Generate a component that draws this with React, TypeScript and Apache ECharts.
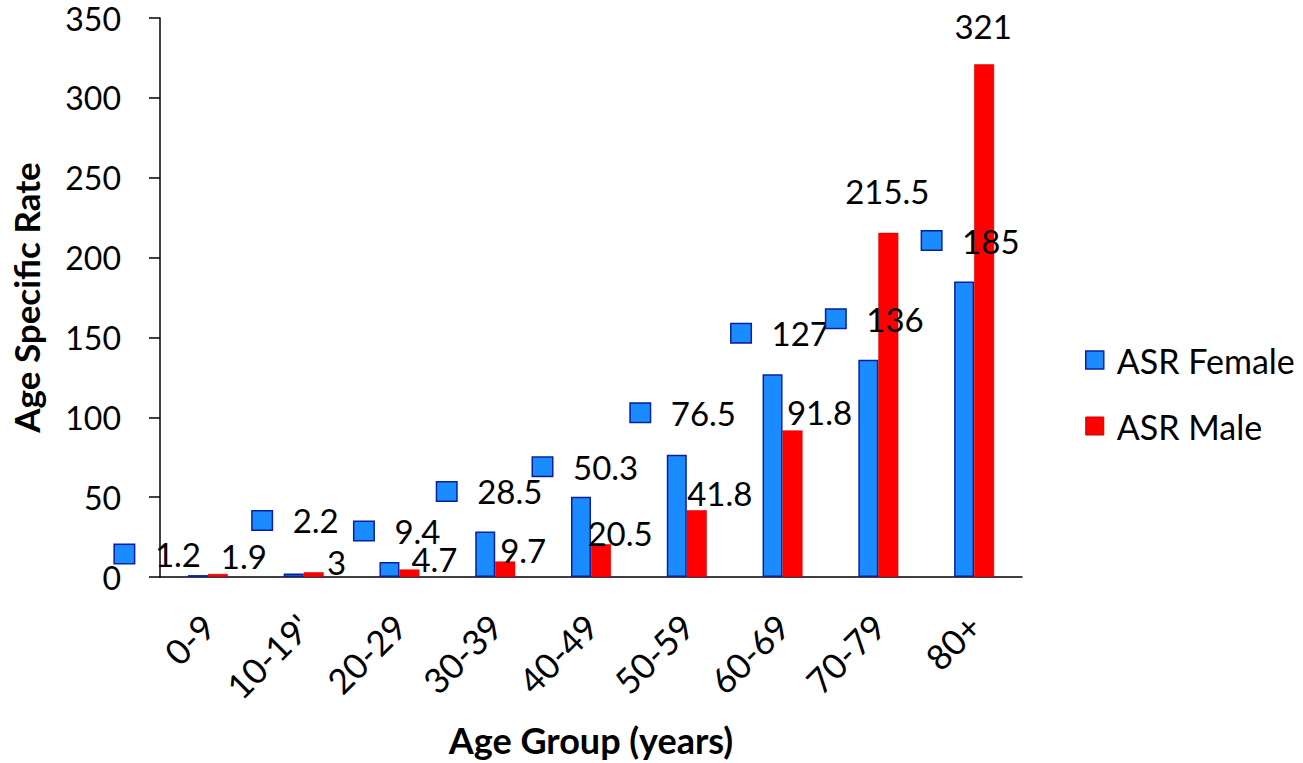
import React, { useEffect, useRef } from "react";
import * as echarts from "echarts";

const categories = ["0-9", "10-19'", "20-29", "30-39", "40-49", "50-59", "60-69", "70-79", "80+"];
const femaleValues = [1.2, 2.2, 9.4, 28.5, 50.3, 76.5, 127, 136, 185];
const maleValues = [1.9, 3, 4.7, 9.7, 20.5, 41.8, 91.8, 215.5, 321];
const yTicks = { min: 0, max: 350, interval: 50 };

// label placement offsets (px) relative to bar top, as in the reference
const femaleLabelDx = [-83, -41, -35, -48, -48, -46, -41, -42, -42];
const femaleLabelDy = [-21, -53, -31, -40, -30, -42, -41, -41, -41];
const maleLabelDx = [26, 23, 25, 18, 19, 23, 27, -1, -1];
const maleLabelDy = [-18, -10, -10, -12, -11, -17, -18, -42, -38];

const FONT = "Lato, 'Noto Sans', sans-serif";
const BLUE = "#1a8cff";
const BLUE_EDGE = "#0a1f9e";
const RED = "#ff0000";
const RED_EDGE = "#c00000";

export default function App() {
  const ref = useRef<HTMLDivElement>(null);
  useEffect(() => {
    if (!ref.current) return;
    const chart = echarts.init(ref.current, undefined, { renderer: "svg" });
    chart.setOption({
      animation: false,
      backgroundColor: "#ffffff",
      textStyle: { fontFamily: FONT, color: "#000" },
      grid: { left: 147, right: 281, top: 18, bottom: 185, containLabel: false },
      legend: {
        orient: "vertical",
        left: 1080,
        top: 338,
        itemWidth: 18,
        itemHeight: 18,
        itemGap: 32,
        icon: "rect",
        textStyle: { fontFamily: FONT, fontSize: 34, color: "#000", padding: [0, 0, 0, 8] },
        data: [
          { name: "ASR Female", itemStyle: { color: BLUE, borderColor: BLUE_EDGE, borderWidth: 1.5 } },
          { name: "ASR Male", itemStyle: { color: RED, borderColor: RED_EDGE, borderWidth: 1 } },
        ],
      },
      xAxis: {
        type: "category",
        data: categories,
        boundaryGap: true,
        axisLine: { lineStyle: { color: "#000", width: 1.5 } },
        axisTick: { show: false },
        axisLabel: { rotate: 45, fontSize: 35, color: "#000", margin: 43, fontFamily: FONT, interval: 0 },
        name: "Age Group (years)",
        nameLocation: "middle",
        nameGap: 145,
        nameTextStyle: { fontSize: 36, fontWeight: "bold", color: "#000", fontFamily: FONT },
      },
      yAxis: {
        type: "value",
        min: yTicks.min,
        max: yTicks.max,
        interval: yTicks.interval,
        splitLine: { show: false },
        axisLine: { show: true, lineStyle: { color: "#000", width: 1.5 } },
        axisTick: { show: true, length: 11, lineStyle: { color: "#000", width: 1.5 } },
        axisLabel: {
          fontSize: 32,
          lineHeight: 32,
          padding: [4, 0, 0, 0],
          color: "#000",
          margin: 39,
          fontFamily: FONT,
        },
        name: "Age Specific Rate",
        nameLocation: "middle",
        nameGap: 117,
        nameRotate: 90,
        nameTextStyle: { fontSize: 35, fontWeight: "bold", color: "#000", fontFamily: FONT },
      },
      series: [
        {
          name: "ASR Female",
          type: "bar",
          barWidth: 20,
          barGap: "0%",
          itemStyle: { color: BLUE, borderColor: BLUE_EDGE, borderWidth: 1.5 },
          data: femaleValues.map((v, i) => ({
            value: v,
            label: { offset: [femaleLabelDx[i], femaleLabelDy[i]] },
          })),
          label: {
            show: true,
            position: "top",
            distance: 0,
            align: "left",
            verticalAlign: "middle",
            formatter: "{sq|}{gap|}{v|{c}}",
            rich: {
              sq: {
                width: 19,
                height: 18,
                backgroundColor: BLUE,
                borderColor: BLUE_EDGE,
                borderWidth: 1.5,
              },
              gap: { width: 21 },
              v: { fontSize: 33, color: "#000", fontFamily: FONT },
            },
          },
        },
        {
          name: "ASR Male",
          type: "bar",
          barWidth: 20,
          barGap: "0%",
          itemStyle: { color: RED, borderColor: RED_EDGE, borderWidth: 0.5 },
          data: maleValues.map((v, i) => ({
            value: v,
            label: { offset: [maleLabelDx[i], maleLabelDy[i]] },
          })),
          label: {
            show: true,
            position: "top",
            distance: 0,
            align: "center",
            verticalAlign: "middle",
            fontSize: 33,
            lineHeight: 33,
            color: "#000",
            fontFamily: FONT,
          },
        },
      ],
    });
    return () => chart.dispose();
  }, []);
  return (
    <div
      ref={ref}
      style={{ position: "absolute", left: 0, top: 0, width: 1303, height: 763 }}
    />
  );
}
